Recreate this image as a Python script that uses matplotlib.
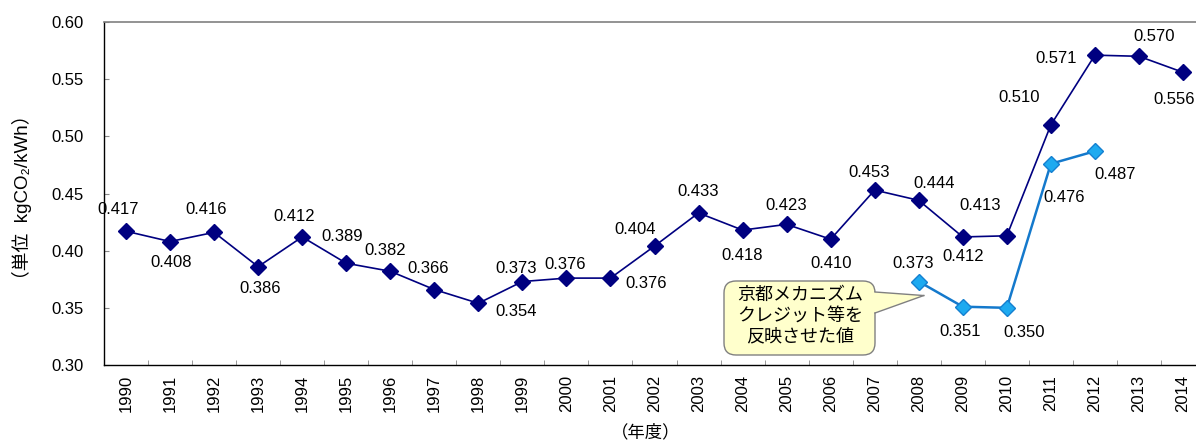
import matplotlib
matplotlib.use("Agg")
import matplotlib.pyplot as plt
from matplotlib.patches import FancyBboxPatch, Polygon
from matplotlib.lines import Line2D
import numpy as np

years = [str(y) for y in range(1990, 2015)]
main_vals = [0.417, 0.408, 0.416, 0.386, 0.412, 0.389, 0.382, 0.366, 0.354, 0.373,
             0.376, 0.376, 0.404, 0.433, 0.418, 0.423, 0.410, 0.453, 0.444, 0.412,
             0.413, 0.510, 0.571, 0.570, 0.556]
kyoto_years = ["2008", "2009", "2010", "2011", "2012"]
kyoto_vals = [0.373, 0.351, 0.350, 0.476, 0.487]
callout_text = "京都メカニズム\nクレジット等を\n反映させた値"
ylabel_text = "（単位  kgCO₂/kWh）"
xlabel_text = "（年度）"

# label offsets (pixels, dx, dy up)
main_off = [(-8, 22), (1, -21), (-8, 23), (2, -22), (-8, 20), (-4, 27), (-5, 21), (-6, 21),
            (38, -8), (-6, 13), (-1, 14), (36, -5), (-19, 17), (0, 21), (0, -25), (0, 19),
            (0, -24), (-6, 18), (15, 17), (0, -20), (-27, 30), (-32, 27), (-39, -3),
            (15, 20), (-9, -27)]
kyoto_off = [(-6, 18), (-3, -25), (17, -25), (13, -34), (20, -23)]

W, H, DPI = 1196, 441, 100
fig = plt.figure(figsize=(W / DPI, H / DPI), dpi=DPI)
L, R, T, B = 104, 1205, 22, 365
ax = fig.add_axes([L / W, 1 - B / H, (R - L) / W, (B - T) / H])

num_font = dict(family=['Liberation Sans', 'DejaVu Sans'], size=12)
cjk = ['Noto Sans CJK JP', 'DejaVu Sans']

x = np.arange(len(years))
xk = np.array([years.index(y) for y in kyoto_years])

ax.plot(x, main_vals, color='#000080', lw=1.2, marker='D', ms=8.5,
        mfc='#000080', mec='#000080', zorder=3, clip_on=False)
ax.plot(xk, kyoto_vals, color='#1479cc', lw=1.8, marker='D', ms=8.5,
        mfc='#1eaaf0', mec='#1480d0', zorder=3, clip_on=False)

pt = 72 / DPI
for xi, v, (dx, dy) in zip(x, main_vals, main_off):
    ax.annotate(f"{v:.3f}", (xi, v), xytext=(dx * pt, dy * pt), textcoords='offset points',
                ha='center', va='center', **num_font)
for xi, v, (dx, dy) in zip(xk, kyoto_vals, kyoto_off):
    ax.annotate(f"{v:.3f}", (xi, v), xytext=(dx * pt, dy * pt), textcoords='offset points',
                ha='center', va='center', **num_font)

ax.set_xlim(-0.5, len(years) - 0.5)
ax.set_ylim(0.30, 0.60)
yt = np.arange(0.30, 0.601, 0.05)
ax.set_yticks(yt)
ax.set_yticklabels([f"{t:.2f}" for t in yt], **num_font)
ax.set_xticks(x)
ax.set_xticklabels(years, rotation=90, **num_font)
ax.set_xticks(np.arange(0.5, len(years) - 0.5, 1), minor=True)
ax.tick_params(axis='x', which='major', length=0, pad=7)
ax.tick_params(axis='x', which='minor', direction='in', length=3.6, color='#888888')
ax.tick_params(axis='y', direction='in', length=3.6, color='#888888', pad=15)

for s in ['left', 'bottom']:
    ax.spines[s].set_color('black')
    ax.spines[s].set_linewidth(1.0)
ax.spines['top'].set_color('#808080')
ax.spines['top'].set_linewidth(1.2)
ax.spines['right'].set_visible(False)

ax.set_ylabel(ylabel_text, family=['Liberation Sans', 'Noto Sans CJK JP', 'DejaVu Sans'],
              size=13.5, va='center')
ax.yaxis.set_label_coords((22 - L) / (R - L), 0.49)
fig.text(646 / W, 1 - 432 / H, xlabel_text, family=cjk, size=12.5, ha='center', va='center')

# callout (display pixel coordinates; y measured up from bottom)
def px(xp, yp):
    return (xp, H - yp)

fig.canvas.draw()
tip_disp = ax.transData.transform((xk[0], kyoto_vals[0]))
tip = (tip_disp[0] + 5, tip_disp[1] - 14)

bx0, by0 = px(724, 355)
box = FancyBboxPatch((bx0, by0), 875 - 724, 355 - 281,
                     boxstyle='round,pad=0,rounding_size=12', fc='#FFFFCC', ec='#808080',
                     lw=1, transform=None, zorder=6)
fig.patches.append(box)
base_top = px(875, 292)
base_bot = px(875, 313)
fill = Polygon([(base_top[0] - 2, base_top[1]), tip, (base_bot[0] - 2, base_bot[1])],
               closed=True, fc='#FFFFCC', ec='none', transform=None, zorder=7)
fig.patches.append(fill)
for p in (base_top, base_bot):
    fig.lines.append(Line2D([p[0], tip[0]], [p[1], tip[1]], color='#808080', lw=1,
                            transform=None, zorder=8))
fig.text(800 / W, 1 - 316 / H, callout_text, family=cjk, size=13, ha='center', va='center',
         linespacing=1.2, zorder=9)

fig.savefig("out.png", dpi=DPI)
